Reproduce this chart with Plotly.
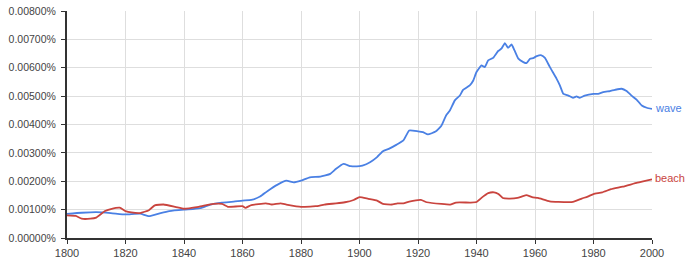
import plotly.graph_objects as go

wave_years = [1800, 1805, 1810, 1815, 1820, 1825, 1828, 1832, 1835, 1840, 1843, 1846, 1849, 1853, 1857, 1860,
              1863, 1866, 1868.5, 1872, 1875, 1877.5, 1880, 1883, 1886.6, 1890, 1892, 1894.5, 1897, 1900,
              1901, 1903.6, 1906, 1908, 1910, 1912.7, 1915, 1917, 1920, 1921.7, 1923.4, 1926, 1928, 1929.6,
              1930.9, 1932.6, 1934.3, 1935.4, 1937.7, 1938.9, 1940, 1941.7, 1942.8, 1944, 1945.7, 1947.4,
              1948.5, 1949.7, 1950.8, 1952, 1953, 1954.3, 1956, 1957.1, 1958.3, 1959.4, 1960.6, 1962.2,
              1963.4, 1965.1, 1967.4, 1968.5, 1969.7, 1971.4, 1973, 1974.2, 1975.3, 1977, 1980, 1981.6,
              1983.3, 1985.6, 1987.3, 1989.6, 1991.3, 1993, 1994.8, 1996.5, 1998.2, 2000]
wave = [0.00085, 0.00089, 0.00091, 0.00088, 0.00083, 0.00086, 0.00077, 0.00088, 0.00095, 0.00100, 0.00102,
        0.00106, 0.00118, 0.00125, 0.00128, 0.00132, 0.00134, 0.00146, 0.00165, 0.00188, 0.00202, 0.00196,
        0.00202, 0.00214, 0.00216, 0.00226, 0.00244, 0.00261, 0.00253, 0.00253, 0.00255, 0.00267, 0.00285,
        0.00306, 0.00314, 0.00329, 0.00344, 0.00379, 0.00376, 0.00373, 0.00365, 0.00375, 0.00396, 0.00432,
        0.00449, 0.00485, 0.00502, 0.00522, 0.00538, 0.00555, 0.00585, 0.00608, 0.00602, 0.00626, 0.00635,
        0.00659, 0.00667, 0.00687, 0.00670, 0.00682, 0.00661, 0.00632, 0.00620, 0.00616, 0.00632, 0.00634,
        0.00641, 0.00644, 0.00635, 0.00602, 0.00561, 0.00538, 0.00508, 0.00502, 0.00494, 0.00499, 0.00494,
        0.00502, 0.00508, 0.00508, 0.00514, 0.00518, 0.00522, 0.00526, 0.00518, 0.00502, 0.00487, 0.00467,
        0.00459, 0.00455]

beach_years = [1800, 1803, 1805, 1808, 1810, 1813, 1815, 1818, 1820, 1822, 1825, 1828, 1830, 1833, 1837,
               1840, 1845, 1850, 1853, 1855, 1860, 1861, 1863, 1868, 1870, 1873, 1875, 1880, 1885, 1888,
               1892, 1895, 1898, 1900, 1903, 1906, 1908, 1911, 1913, 1915, 1917, 1921, 1923, 1928, 1931,
               1933, 1938, 1940, 1942, 1944, 1946, 1947.5, 1949, 1951, 1954, 1957, 1959, 1961, 1965, 1968,
               1973, 1976, 1978, 1980, 1983, 1986, 1990, 1995, 2000]
beach = [0.00080, 0.00078, 0.00068, 0.00068, 0.00072, 0.00095, 0.00102, 0.00107, 0.00095, 0.00090, 0.00088,
         0.00098, 0.00115, 0.00118, 0.00110, 0.00103, 0.00110, 0.00120, 0.00120, 0.00110, 0.00112, 0.00106,
         0.00116, 0.00122, 0.00118, 0.00122, 0.00118, 0.00110, 0.00112, 0.00118, 0.00122, 0.00126, 0.00134,
         0.00144, 0.00138, 0.00132, 0.00120, 0.00118, 0.00122, 0.00122, 0.00128, 0.00134, 0.00126, 0.00120,
         0.00118, 0.00125, 0.00125, 0.00127, 0.00144, 0.00158, 0.00161, 0.00155, 0.00141, 0.00139, 0.00141,
         0.00151, 0.00144, 0.00141, 0.00129, 0.00127, 0.00127, 0.00139, 0.00146, 0.00155, 0.00161, 0.00172,
         0.00181, 0.00195, 0.00207]

x_ticks = [1800, 1820, 1840, 1860, 1880, 1900, 1920, 1940, 1960, 1980, 2000]
y_ticks = [0, 0.001, 0.002, 0.003, 0.004, 0.005, 0.006, 0.007, 0.008]
series_names = ["wave", "beach"]
colors = ["#4a80e4", "#c9443e"]

fig = go.Figure()
for name, xs, ys, c in [(series_names[0], wave_years, wave, colors[0]),
                        (series_names[1], beach_years, beach, colors[1])]:
    fig.add_trace(go.Scatter(x=xs, y=ys, mode="lines", name=name,
                             line=dict(color=c, width=1.8, shape="spline", smoothing=0.4)))
    fig.add_annotation(x=xs[-1], y=ys[-1], text=name, showarrow=False, xanchor="left",
                       xshift=1, yshift=1, font=dict(color=c, size=11, family="Liberation Sans"))

fig.update_layout(
    width=690, height=268,
    margin=dict(l=67, r=38, t=11, b=30, autoexpand=False),
    paper_bgcolor="white", plot_bgcolor="white",
    showlegend=False,
    font=dict(family="Liberation Sans", size=11, color="#444"),
)
fig.update_xaxes(range=[1800, 2000], tickvals=x_ticks, ticktext=[str(t) for t in x_ticks],
                 showgrid=True, gridcolor="#dedede", gridwidth=1, automargin=False,
                 showline=True, linecolor="#333", linewidth=2, tickfont=dict(size=11),
                 ticks="outside", ticklen=4, tickcolor="#333", zeroline=False)
fig.update_yaxes(range=[0, 0.008], tickvals=y_ticks, ticktext=[f"{v:.5f}%" for v in y_ticks],
                 showgrid=True, gridcolor="#dedede", gridwidth=1, automargin=False,
                 showline=True, linecolor="#333", linewidth=2, tickfont=dict(size=10.5),
                 ticklabelstandoff=3,
                 ticks="outside", ticklen=4, tickcolor="#333", zeroline=False)

fig.write_html("out.html")
